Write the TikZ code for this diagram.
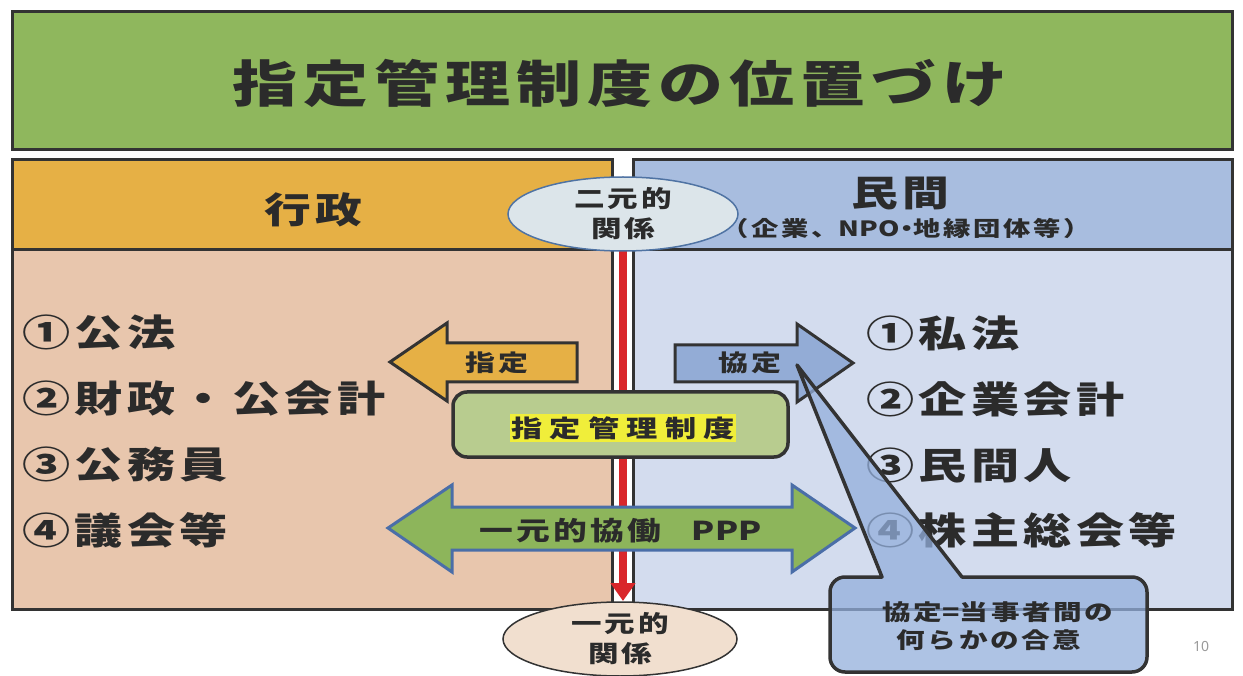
\documentclass[tikz,border=0pt]{standalone}
\usepackage{fontspec}
\newfontfamily\jp{Noto Sans CJK JP}[FakeStretch=1.3,LetterSpace=12]
\newfontfamily\latn{Noto Sans}
\newcommand{\lat}[1]{{\addfontfeature{LetterSpace=2}#1}}
\newcommand{\narrowp}[1]{{\addfontfeature{RawFeature=+palt}#1}}
\usetikzlibrary{shapes.geometric,arrows.meta}
\definecolor{txt}{HTML}{2B2B2B}
\definecolor{bord}{HTML}{333333}
\definecolor{titlegreen}{HTML}{8FB75D}
\definecolor{lheadc}{HTML}{E6B045}
\definecolor{lbodyc}{HTML}{E8C6AD}
\definecolor{rheadc}{HTML}{A8BDDF}
\definecolor{rbodyc}{HTML}{D3DCEE}
\definecolor{ellfill}{HTML}{DCE5EA}
\definecolor{ellblue}{HTML}{4F73A3}
\definecolor{arrblue}{HTML}{93ACD6}
\definecolor{boxgreen}{HTML}{B8CC8F}
\definecolor{hiyellow}{HTML}{F0EE3A}
\definecolor{pppgreen}{HTML}{8DB55B}
\definecolor{pppblue}{HTML}{4A6EA8}
\definecolor{ellpeach}{HTML}{F1DFCF}
\definecolor{callblue}{HTML}{93AFDC}
\definecolor{redc}{HTML}{D9262A}
\definecolor{pagegray}{HTML}{9A9A9A}
\tikzset{
  panelfill/.style={inner sep=0pt, outer sep=0pt},
  panelline/.style={draw=bord, line width=3pt},
  blockarrow/.style={draw=bord, line width=3pt, line join=miter},
  listtext/.style={anchor=west, font=\jp\bfseries\fontsize{37}{42}\selectfont},
  arrowtext/.style={font=\jp\bfseries\fontsize{23}{26}\selectfont},
  elltext/.style={align=center, font=\jp\bfseries\fontsize{23.5}{30}\selectfont},
  calltextstyle/.style={font=\jp\bfseries\fontsize{22}{28}\selectfont},
}
\begin{document}
\begin{tikzpicture}[x=1pt,y=-1pt, every node/.style={font=\jp\bfseries, text=txt, inner sep=0pt}]
\useasboundingbox (0,0) rectangle (1243,676);
\fill[white] (0,0) rectangle (1243,676);
% title
\node[draw=bord, line width=3pt, fill=titlegreen, minimum width=1220pt, minimum height=138pt] (titlebox) at (622,81) {};
\node (titletext) at (620,83) {\fontsize{50}{60}\selectfont 指定管理制度の位置づけ};
% panels
\node[panelfill, fill=lheadc, minimum width=600pt, minimum height=90pt] (lhead) at (312,205) {};
\node[panelfill, fill=lbodyc, minimum width=600pt, minimum height=359pt] (lbody) at (312,429.5) {};
\node[panelfill, fill=rheadc, minimum width=599pt, minimum height=90pt] (rhead) at (932.5,205) {};
\node[panelfill, fill=rbodyc, minimum width=599pt, minimum height=359pt] (rbody) at (932.5,429.5) {};
\draw[panelline] (lhead.north west) rectangle (lbody.south east);
\draw[panelline] (lhead.south west) -- (lhead.south east);
\draw[panelline] (rhead.north west) rectangle (rbody.south east);
\draw[panelline] (rhead.south west) -- (rhead.south east);
% header texts
\node (gyosei) at (313,210) {\fontsize{36}{40}\selectfont 行政};
\node (minkan) at (900,194) {\fontsize{36}{40}\selectfont 民間};
\node (minkansub) at (906,229) {\fontsize{21}{26}\selectfont （企業、\lat{NPO}\narrowp{・}地縁団体等）};
% red arrow
\coordinate (rtop) at (623,250);
\coordinate (rbot) at (623,601);
\draw[redc, line width=8pt, -{Triangle[width=24pt,length=18pt]}] (rtop) -- (rbot);
% top ellipse
\node[ellipse, draw=ellblue, line width=1.5pt, fill=ellfill, minimum width=230pt, minimum height=74pt, elltext] (niyuan) at (623,214) {二元的\\関係};
% lists
\node[listtext] (l1) at (22,333) {①公法};
\node[listtext] (l2) at (22,399) {②財政・公会計};
\node[listtext] (l3) at (22,465) {③公務員};
\node[listtext] (l4) at (22,530) {④議会等};
\node[listtext] (r1) at (866,333) {①私法};
\node[listtext] (r2) at (866,399) {②企業会計};
\node[listtext] (r3) at (866,465) {③民間人};
\node[listtext] (r4) at (866,530) {④株主総会等};
% left arrow
\draw[blockarrow, fill=lheadc] (390,362) -- (447,323) -- (447,343) -- (577,343) -- (577,382) -- (447,382) -- (447,401) -- cycle;
\node[arrowtext] (shiteiar) at (497,363) {指定};
% right arrow
\draw[blockarrow, fill=arrblue] (853,363) -- (797,324) -- (797,345) -- (675,345) -- (675,382) -- (797,382) -- (797,402) -- cycle;
\node[arrowtext] (kyoteiar) at (750,363) {協定};
% central box
\node[draw=bord, line width=3.5pt, rounded corners=14pt, fill=boxgreen, minimum width=335pt, minimum height=65pt] (seido) at (620.5,424.5) {};
\node[fill=hiyellow, inner ysep=2pt, inner xsep=1pt] (seidotext) at (623,428) {\fontsize{24}{28}\selectfont\addfontfeature{LetterSpace=30}指定管理制度};
% double arrow PPP
\draw[draw=pppblue, line width=3pt, fill=pppgreen, line join=miter] (388,528) -- (452,485) -- (452,507) -- (792,507) -- (792,485) -- (855,528) -- (792,572) -- (792,550) -- (452,550) -- (452,572) -- cycle;
\node (ppp) at (621,531) {\fontsize{26}{28}\selectfont 一元的協働\hspace{30pt}\lat{PPP}};
% callout
\draw[draw=bord, line width=3.5pt, fill=callblue, fill opacity=0.75, line join=round]
  (882,577) -- (797,365) -- (962,577) -- (980,577) [rounded corners=15pt] -- (1147,577) -- (1147,672) -- (830,672) -- (830,577) -- (860,577) [sharp corners] -- cycle;
\node[calltextstyle] (calltexta) at (998,612) {協定\lat{=}当事者間の};
\node[calltextstyle] (calltextb) at (989,640) {何らかの合意};
% bottom ellipse
\node[ellipse, draw=bord, line width=1.5pt, fill=ellpeach, minimum width=234pt, minimum height=73pt, elltext] (ichigen) at (620,639) {一元的\\関係};
% page number
\node[font=\latn\fontsize{14}{16}\selectfont, text=pagegray] (pageno) at (1201,646) {10};
\end{tikzpicture}
\end{document}
